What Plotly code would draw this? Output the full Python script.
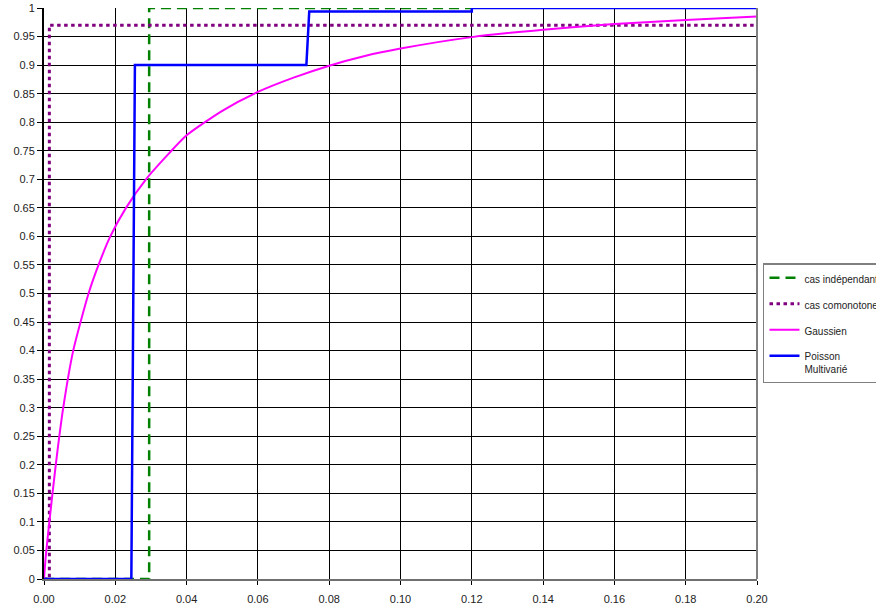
import plotly.graph_objects as go

# ---- data ----
indep_x = [0.0, 0.0295, 0.0295, 0.12]
indep_y = [0.0, 0.0, 1.0, 1.0]

comono_x = [0.0, 0.0015, 0.0015, 0.20]
comono_y = [0.0, 0.0, 0.97, 0.97]

gauss_x = [0.0, 0.0005, 0.0015, 0.0033, 0.0054, 0.0082, 0.0125, 0.0153, 0.0186, 0.023,
           0.0286, 0.035, 0.04, 0.05, 0.06, 0.07, 0.08, 0.09, 0.10, 0.12, 0.14, 0.16,
           0.18, 0.20]
gauss_y = [0.0, 0.04, 0.10, 0.20, 0.30, 0.40, 0.50, 0.55, 0.60, 0.65,
           0.70, 0.745, 0.777, 0.82, 0.853, 0.878, 0.899, 0.916, 0.929, 0.949, 0.962, 0.972,
           0.979, 0.985]

poisson_x = [0.0, 0.0245, 0.0255, 0.0736, 0.0744, 0.12, 0.12, 0.20]
poisson_y = [0.0, 0.0, 0.90, 0.90, 0.994, 0.994, 1.0, 1.0]

x_ticks = [0.00, 0.02, 0.04, 0.06, 0.08, 0.10, 0.12, 0.14, 0.16, 0.18, 0.20]

fig = go.Figure()
fig.add_trace(go.Scatter(x=indep_x, y=indep_y, mode="lines", name="cas indépendant",
                         legendgroup="a",
                         line=dict(color="#008000", width=2.5, dash="10px,6px")))
fig.add_trace(go.Scatter(x=comono_x, y=comono_y, mode="lines", name="cas comonotone",
                         legendgroup="b",
                         line=dict(color="#800080", width=3, dash="3.5px,3.5px")))
fig.add_trace(go.Scatter(x=gauss_x, y=gauss_y, mode="lines", name="Gaussien",
                         legendgroup="c",
                         line=dict(color="#FF00FF", width=2, shape="spline", smoothing=0.6)))
fig.add_trace(go.Scatter(x=poisson_x, y=poisson_y, mode="lines", name="Poisson<br>Multivarié",
                         legendgroup="d",
                         line=dict(color="#0000FF", width=2.5)))

font = dict(family="Liberation Sans, Arial, sans-serif", size=11, color="#222222")

fig.update_layout(
    width=876, height=607,
    margin=dict(l=44, r=119, t=8, b=28, autoexpand=False),
    paper_bgcolor="white", plot_bgcolor="white",
    font=font,
    showlegend=True,
    legend=dict(x=1.0084, y=0.553, xanchor="left", yanchor="top",
                bgcolor="white", bordercolor="#808080", borderwidth=1.5,
                font=dict(family="Liberation Sans, Arial, sans-serif", size=10, color="#222222"),
                tracegroupgap=7, itemwidth=30, valign="top"),
    xaxis=dict(range=[0, 0.2], tickvals=x_ticks, tickformat=".2f",
               showgrid=True, gridcolor="black", gridwidth=1,
               showline=True, linecolor="#707070", linewidth=2,
               ticks="outside", ticklen=4, tickcolor="black",
               zeroline=False, ticklabelstandoff=5),
    yaxis=dict(range=[0, 1], dtick=0.05, tick0=0,
               showgrid=True, gridcolor="black", gridwidth=1,
               showline=True, linecolor="black", linewidth=2,
               ticks="outside", ticklen=5, tickcolor="black",
               zeroline=False),
    shapes=[dict(type="line", xref="paper", yref="paper", x0=1, x1=1, y0=0, y1=1,
                 line=dict(color="#808080", width=2))],
)

fig.write_html("out.html")
